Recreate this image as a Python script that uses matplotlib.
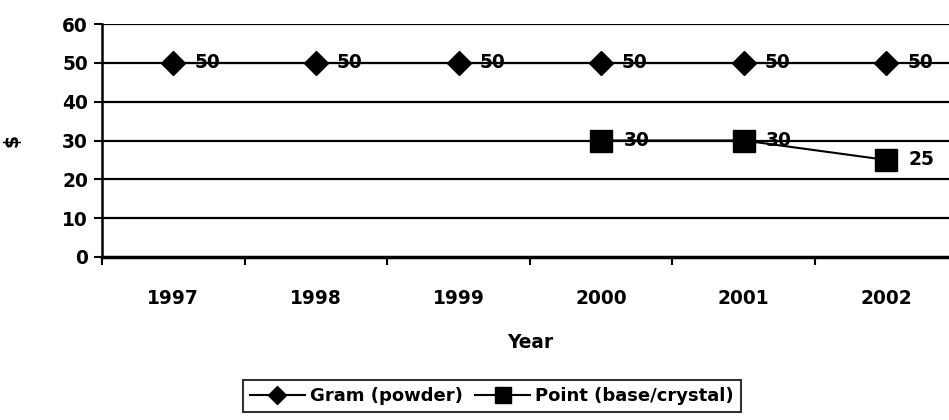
import matplotlib.pyplot as plt

# the original uses a horizontally stretched Arial; DejaVu Sans Bold is close in width
plt.rcParams['font.family'] = ['DejaVu Sans']
plt.rcParams['font.weight'] = 'bold'

years = ['1997', '1998', '1999', '2000', '2001', '2002']
gram = [50, 50, 50, 50, 50, 50]
point_years = [3, 4, 5]  # index of 2000, 2001, 2002
point = [30, 30, 25]

fig = plt.figure(figsize=(9.49, 4.2), dpi=100)
# plot area runs past the right edge of the picture, as in the original
ax = fig.add_axes([102 / 949, 163 / 420, 855.6 / 949, 233 / 420])

x = list(range(len(years)))
ax.set_xlim(-0.5, len(years) - 0.5)
ax.set_ylim(0, 60)

for v in range(10, 61, 10):
    ax.axhline(v, color='black', lw=1.6, zorder=1)

ax.plot(x, gram, color='black', lw=1.5, marker='D', ms=12, zorder=3,
        label='Gram (powder)')
ax.plot(point_years, point, color='black', lw=1.5, marker='s', ms=16, zorder=3,
        label='Point (base/crystal)')

for xi, v in zip(x, gram):
    ax.annotate(str(v), (xi, v), xytext=(15, 0), textcoords='offset points',
                va='center', ha='left', fontsize=13.4, fontweight='bold')
for xi, v in zip(point_years, point):
    ax.annotate(str(v), (xi, v), xytext=(16, 0), textcoords='offset points',
                va='center', ha='left', fontsize=13.4, fontweight='bold')

ax.set_yticks(range(0, 61, 10))
ax.set_xticks([i - 0.5 for i in x])
ax.set_xticklabels([])
ax.set_xticks(x, minor=True)
ax.set_xticklabels(years, minor=True)
ax.tick_params(axis='x', which='major', length=6, width=1.5, direction='out')
ax.tick_params(axis='x', which='minor', length=0, pad=23, labelsize=13.4)
ax.tick_params(axis='y', length=6, width=1.5, labelsize=13.4, pad=4)

for s in ['top', 'right']:
    ax.spines[s].set_visible(False)
ax.spines['left'].set_linewidth(1.8)
ax.spines['bottom'].set_linewidth(2.5)

ax.set_xlabel('Year', fontsize=13.4, fontweight='bold', labelpad=18)
ax.set_ylabel('$', fontsize=13.4, fontweight='bold', labelpad=29)

leg = fig.legend(loc='center', bbox_to_anchor=(492 / 949, 24 / 420), ncol=2,
                 frameon=True, fancybox=False, edgecolor='black',
                 prop={'size': 13, 'weight': 'bold'}, handlelength=3.0,
                 columnspacing=0.7, handletextpad=0.3, borderpad=0.4,
                 markerscale=0.75)
leg.get_frame().set_linewidth(1.5)

fig.savefig('out.png', dpi=100)
